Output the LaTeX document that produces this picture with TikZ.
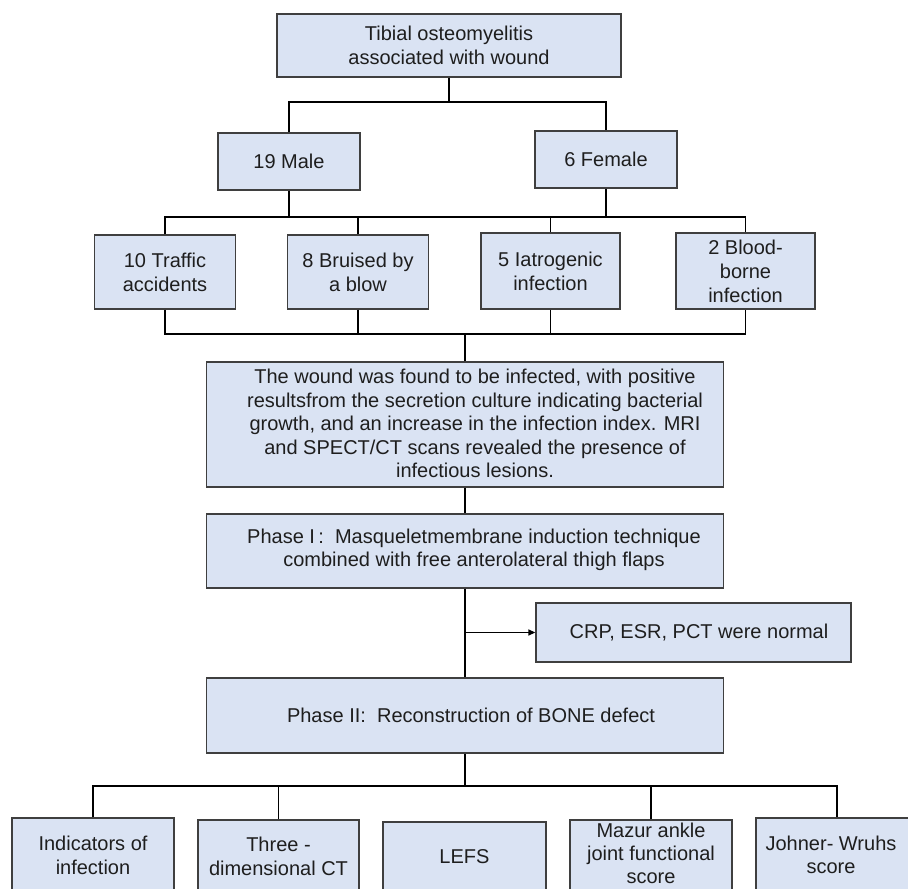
\documentclass[tikz,border=0pt]{standalone}
\usepackage{fontspec}
\setmainfont{Liberation Sans}
\usetikzlibrary{arrows.meta}
\definecolor{boxfill}{HTML}{DAE3F3}
\definecolor{boxline}{HTML}{3F3F3F}
\definecolor{txtcol}{HTML}{1E1E1E}
\begin{document}
\begin{tikzpicture}[x=1pt,y=-1pt,
  box/.style={draw=boxline, fill=boxfill, line width=1.3pt, inner sep=0pt, anchor=center,
    align=center, text=txtcol, font=\fontsize{20}{24}\selectfont},
  txt/.style={inner sep=0pt, align=center, text=txtcol, font=\fontsize{20}{23.5}\selectfont},
  conn/.style={draw=black, line width=1.3pt}]
\useasboundingbox (0,0) rectangle (908,889);
\clip (0,0) rectangle (908,889);
% level 1
\node[box, minimum width=344, minimum height=63] (top) at (449,45.5) {Tibial osteomyelitis\\associated with wound};
% level 2
\node[box, minimum width=142, minimum height=57] (male) at (289,161.5) {19 Male};
\node[box, minimum width=142, minimum height=57] (female) at (606,159.5) {6 Female};
% level 3
\node[box, minimum width=141, minimum height=74] (traffic) at (165,272) {10 Traffic\\accidents};
\node[box, minimum width=141, minimum height=74] (bruised) at (358,272) {8 Bruised by\\a blow};
\node[box, minimum width=139, minimum height=76] (iatro) at (550.5,271) {5 Iatrogenic\\infection};
\node[box, minimum width=139, minimum height=76] (blood) at (745.5,271) {2 Blood-\\borne\\infection};
% infection box
\node[box, minimum width=517, minimum height=125] (inf) at (465,424.5) {};
\node[txt] (inftext) at (475,423.5) {The wound was found to be infected, with positive\\resultsfrom the secretion culture indicating bacterial\\growth, and an increase in the infection index. MRI\\and SPECT/CT scans revealed the presence of\\infectious lesions.};
% phase I
\node[box, minimum width=517, minimum height=74] (ph1) at (465,551) {};
\node[txt] (ph1text) at (474,550) {Phase I\,:\ \ Masqueletmembrane induction technique\\combined with free anterolateral thigh flaps};
% CRP
\node[box, minimum width=315, minimum height=59] (crp) at (693.5,632.5) {};
\node[txt] (crptext) at (699,632.5) {CRP, ESR, PCT were normal};
% phase II
\node[box, minimum width=517, minimum height=75] (ph2) at (465,715.5) {};
\node[txt] (ph2text) at (471,715.5) {Phase II:\ \ Reconstruction of BONE defect};
% bottom row
\node[box, minimum width=162, minimum height=74] (ind) at (93,855) {Indicators of\\infection};
\node[box, minimum width=161, minimum height=72] (thr) at (278.5,856) {Three -\\dimensional CT};
\node[box, minimum width=163, minimum height=70] (lefs) at (464.5,857) {LEFS};
\node[box, minimum width=162, minimum height=72] (maz) at (651,856) {};
\node[txt, font=\fontsize{20}{23}\selectfont] (maztext) at (651,853) {Mazur ankle\\joint functional\\score};
\node[box, minimum width=162, minimum height=74] (joh) at (837,855) {};
\node[txt] (johtext) at (831,855) {Johner- Wruhs\\score};
% junction coordinates
\coordinate (j1) at (449,102);
\coordinate (j2) at (0,217);
\coordinate (j3) at (0,334);
\coordinate (j4) at (0,786);
% connectors
\draw[conn] (top.south) -- (j1);
\draw[conn] (male.north) -- (male.north |- j1) -- (female.north |- j1) -- (female.north);
\draw[conn] (male.south) -- (male.south |- j2);
\draw[conn] (female.south) -- (female.south |- j2);
\draw[conn] (traffic.north) -- (traffic.north |- j2) -- (blood.north |- j2) -- (blood.north);
\draw[conn] (bruised.north) -- (bruised.north |- j2);
\draw[conn] (iatro.north) -- (iatro.north |- j2);
\draw[conn] (traffic.south) -- (traffic.south |- j3) -- (blood.south |- j3) -- (blood.south);
\draw[conn] (bruised.south) -- (bruised.south |- j3);
\draw[conn] (iatro.south) -- (iatro.south |- j3);
\draw[conn] (inf.north) -- (inf.north |- j3);
\draw[conn] (inf.south) -- (ph1.north);
\draw[conn] (ph1.south) -- (ph2.north);
\draw[conn, -{Triangle[length=7pt,width=6pt]}] (ph1.south |- crp.west) -- (crp.west);
\draw[conn] (ph2.south) -- (ph2.south |- j4);
\draw[conn] (ind.north) -- (ind.north |- j4) -- (joh.north |- j4) -- (joh.north);
\draw[conn] (thr.north) -- (thr.north |- j4);
\draw[conn] (maz.north) -- (maz.north |- j4);
\end{tikzpicture}
\end{document}
